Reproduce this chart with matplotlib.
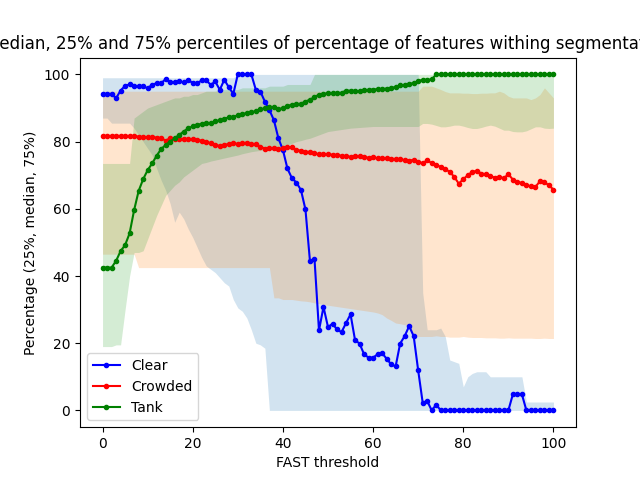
import numpy as np
import matplotlib
matplotlib.use("Agg")
import matplotlib.pyplot as plt

thresholds = list(range(101))

# Clear
clear_med = [94.2, 94.2, 94.2, 92.9, 95.2, 96.6, 97.0, 96.6, 96.4, 96.4,
             95.9, 96.9, 97.4, 97.4, 98.6, 97.6, 97.6, 97.9, 97.6, 98.4,
             97.4, 97.4, 98.2, 98.2, 96.9, 97.9, 95.4, 98.4, 96.2, 94.2,
             100.0, 100.0, 100.0, 100.0, 95.4, 94.9, 91.9, 89.4, 86.4, 81.0,
             77.5, 72.0, 69.1, 67.8, 65.6, 59.8, 44.4, 45.2, 23.8, 30.8,
             24.8, 25.8, 24.1, 23.3, 26.0, 28.6, 20.9, 19.9, 16.7, 15.7,
             15.7, 16.7, 17.0, 15.4, 13.7, 13.1, 19.9, 22.1, 25.1, 22.1,
             11.9, 2.3, 2.8, 0.0, 1.7, 0.0, 0.0, 0.0, 0.0, 0.0,
             0.0, 0.0, 0.0, 0.0, 0.0, 0.0, 0.0, 0.0, 0.0, 0.0,
             0.0, 4.8, 4.8, 4.8, 0.0, 0.0, 0.0, 0.0, 0.0, 0.0,
             0.0]
clear_q25 = [87.0, 87.0, 85.5, 85.5, 85.5, 85.5, 85.5, 84.0, 82.0, 80.0,
             78.0, 76.0, 72.0, 68.5, 65.5, 61.5, 56.0, 59.0, 57.0, 54.0,
             51.5, 48.5, 45.5, 43.0, 42.0, 41.0, 39.5, 38.0, 37.0, 33.0,
             30.5, 29.5, 27.5, 24.0, 20.0, 19.5, 18.5, 0.0, 0.0, 0.0] + [0.0] * 61
clear_q75 = [99.0] * 30 + [100.0] * 41 + [
             35.0, 24.0, 24.0, 24.0, 24.5, 22.0, 15.0, 14.5, 14.0,
             7.0, 10.0, 11.0, 11.5, 11.5, 11.5, 10.0, 10.0, 10.0, 10.0,
             10.0, 10.0, 10.0, 10.0, 2.5, 2.5, 2.5, 2.5, 2.5, 2.5,
             2.5]

# Crowded
crowded_med = [81.7, 81.7, 81.7, 81.7, 81.7, 81.7, 81.7, 81.6, 81.5, 81.3,
               81.3, 81.3, 81.2, 81.0, 80.3, 81.0, 80.8, 80.8, 80.8, 80.7,
               80.7, 80.5, 80.3, 80.0, 79.5, 79.0, 78.7, 79.0, 79.3, 79.5,
               79.3, 79.5, 79.7, 79.3, 79.3, 78.5, 77.9, 78.0, 78.0, 77.8,
               78.0, 78.3, 78.3, 77.5, 77.3, 77.0, 76.9, 76.6, 76.2, 76.3,
               76.2, 76.1, 76.0, 75.8, 75.6, 75.5, 75.6, 75.7, 75.4, 75.2,
               75.3, 75.0, 75.1, 75.0, 74.9, 74.8, 74.7, 74.5, 74.3, 74.6,
               74.0, 73.6, 74.4, 73.6, 73.0, 72.5, 71.8, 71.0, 69.5, 67.5,
               68.8, 70.0, 71.0, 71.3, 70.5, 70.3, 69.7, 69.3, 69.5, 69.1,
               70.3, 68.7, 68.0, 67.7, 67.0, 66.7, 66.5, 68.2, 67.9, 67.0,
               65.7]
crowded_q25 = [46.5] * 8 + [42.5] * 30 + [
               33.5, 33.5, 33.0, 33.0, 33.0, 32.8, 32.6, 32.5, 32.3, 32.0,
               31.8, 31.5, 31.3, 31.1, 30.9, 30.7, 30.5, 30.3, 30.1, 29.9,
               29.7, 29.5, 29.3, 29.0, 28.5, 27.5, 26.8, 26.0, 25.8, 25.5,
               25.0, 22.5, 22.0, 22.0, 22.0, 22.0, 22.2, 22.0, 22.0, 21.8,
               21.8, 21.8, 22.0, 21.8, 21.7, 21.7, 21.7, 21.6, 21.6, 21.6,
               21.5, 21.5, 21.6, 21.5, 21.5, 21.5, 21.5, 21.5, 21.4, 21.4,
               21.5, 21.4, 21.4]
crowded_q75 = [95.0] * 71 + [
               96.5, 96.5, 96.5, 96.0, 95.5, 94.9, 94.5, 94.5, 94.5, 94.4,
               94.4, 94.3, 94.3, 94.4, 94.4, 94.5, 94.5, 95.0, 94.5, 93.5,
               93.0, 93.0, 93.0, 93.0, 92.5, 93.0, 94.0, 96.0, 94.5, 93.0]

# Tank
tank_med = [42.5, 42.5, 42.5, 44.5, 47.4, 49.2, 52.7, 59.6, 65.3, 68.8,
            71.5, 73.5, 75.8, 77.8, 79.0, 80.0, 81.0, 82.0, 83.0, 84.0,
            84.5, 85.0, 85.3, 85.4, 85.6, 86.0, 86.4, 86.8, 87.2, 87.4,
            87.8, 88.2, 88.5, 88.7, 89.1, 89.6, 89.9, 90.4, 90.2, 89.6,
            90.0, 90.6, 91.0, 91.1, 91.3, 91.9, 92.5, 93.2, 94.0, 94.2,
            94.4, 94.4, 94.5, 94.5, 95.2, 95.1, 95.1, 95.0, 95.3, 95.4,
            95.5, 95.6, 95.6, 95.8, 95.9, 96.3, 96.7, 96.9, 97.2, 97.4,
            98.0, 98.4, 98.4, 98.5] + [100.0] * 27
tank_q25 = [19.0, 19.0, 19.0, 19.5, 19.5, 30.0, 40.0, 47.0, 47.0, 47.5,
            51.0, 54.5, 58.0, 61.0, 64.0, 65.5, 67.0, 68.0, 69.5, 70.5,
            71.5, 72.5, 73.5, 73.8, 74.2, 74.5, 74.8, 75.1, 75.4, 75.7,
            76.0, 76.4, 76.7, 77.0, 77.2, 77.4, 77.5, 77.8, 78.0, 78.3,
            78.5, 79.0, 79.5, 80.0, 80.3, 80.7, 81.0, 81.5, 82.0, 82.5,
            83.0, 83.2, 83.4, 83.6, 83.8, 84.0, 84.1, 84.2, 84.3, 84.4,
            84.5, 84.5, 84.5, 84.5, 84.5, 84.5, 84.5, 84.5, 84.5, 84.5,
            84.5, 85.4, 85.4, 85.2, 84.8, 84.4, 84.4, 84.6, 84.9, 84.9,
            84.6, 84.2, 83.9, 83.9, 84.2, 84.6, 84.9, 84.6, 84.0, 83.4,
            83.4, 83.0, 82.9, 82.9, 83.2, 83.8, 84.4, 84.4, 84.0, 83.9,
            84.0]
tank_q75 = [73.5] * 7 + [
            87.0, 88.0, 89.0, 90.0, 90.5, 91.0, 91.5, 92.0, 92.5, 93.0,
            93.0, 93.5, 93.5, 94.0, 94.0, 94.5, 95.0, 95.0, 95.0, 95.5,
            95.5, 95.5, 95.5, 95.5, 96.0, 96.0, 96.0, 96.0, 96.0, 96.0,
            96.5, 96.5, 96.5, 96.5, 97.0, 97.0, 97.0, 97.0, 97.0, 97.0] + [100.0] * 54

series = [
    ("Clear", clear_med, clear_q25, clear_q75, "b", "C0"),
    ("Crowded", crowded_med, crowded_q25, crowded_q75, "r", "C1"),
    ("Tank", tank_med, tank_q25, tank_q75, "g", "C2"),
]

fig, ax = plt.subplots(figsize=(6.4, 4.8), dpi=100)
for name, med, lo, hi, col, fcol in series:
    ax.plot(thresholds, med, marker=".", color=col, label=name)
    ax.fill_between(thresholds, lo, hi, color=fcol, alpha=0.2, linewidth=0)

ax.set_title("Median, 25% and 75% percentiles of percentage of features withing segmentation")
ax.set_xlabel("FAST threshold")
ax.set_ylabel("Percentage (25%, median, 75%)")
ax.legend(loc="lower left")
fig.savefig("out.png", dpi=100)
